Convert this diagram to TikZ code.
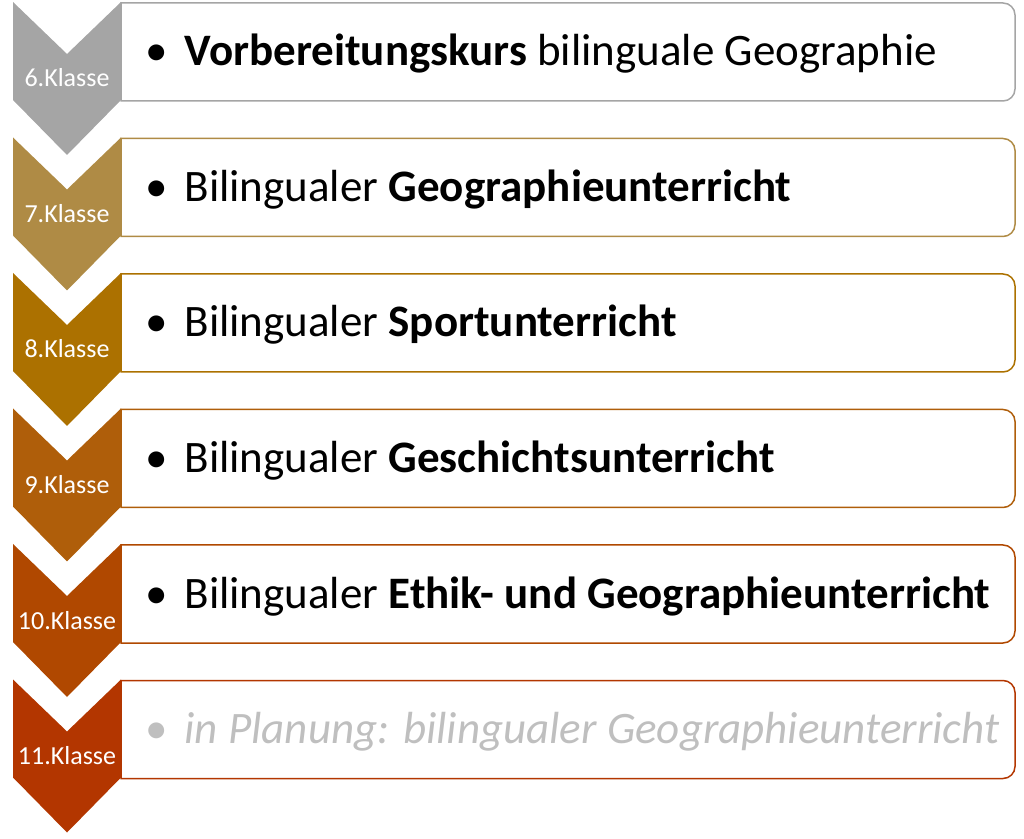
\documentclass[tikz,border=0pt]{standalone}
\usepackage{fontspec}
\setmainfont{Carlito}
\definecolor{klA}{HTML}{A5A5A5}
\definecolor{klB}{HTML}{AF8B45}
\definecolor{klC}{HTML}{AC7100}
\definecolor{klD}{HTML}{AF5E0A}
\definecolor{klE}{HTML}{B04800}
\definecolor{klF}{HTML}{B33600}
\definecolor{planung}{HTML}{BFBFBF}
\begin{document}
\begin{tikzpicture}[x=1pt,y=1pt]
\useasboundingbox (0,0) rectangle (1024,838);
\foreach \n/\col/\tc/\txt [count=\i from 0] in {
  6/klA/black/{\textbf{Vorbereitungskurs} bilinguale Geographie},
  7/klB/black/{Bilingualer \textbf{Geographieunterricht}},
  8/klC/black/{Bilingualer \textbf{Sportunterricht}},
  9/klD/black/{Bilingualer \textbf{Geschichtsunterricht}},
  10/klE/black/{Bilingualer \textbf{Ethik- und Geographieunterricht}},
  11/klF/planung/{\itshape in Planung: bilingualer Geographieunterricht}}{
  \pgfmathsetmacro{\T}{836-135.5*\i}
  \draw[\col, line width=1.5pt] (121,\T-99) -- (121,\T-1) -- (1003,\T-1)
    arc[start angle=90, end angle=0, radius=12] -- (1015,\T-87)
    arc[start angle=0, end angle=-90, radius=12] -- cycle;
  \fill[\col] (13,\T) -- (67,\T-52) -- (121,\T) -- (121,\T-98) -- (67,\T-153) -- (13,\T-98) -- cycle;
  \node[white, anchor=base, inner sep=0pt, font=\fontsize{26}{30}\selectfont] (kl\n) at (67,\T-85) {\n.Klasse};
  \node[anchor=base west, inner sep=0pt, text=\tc, font=\fontsize{45}{52}\selectfont] (txt\n) at (145,\T-64) {\textbullet\hspace{17pt}\txt};
}
\end{tikzpicture}
\end{document}
